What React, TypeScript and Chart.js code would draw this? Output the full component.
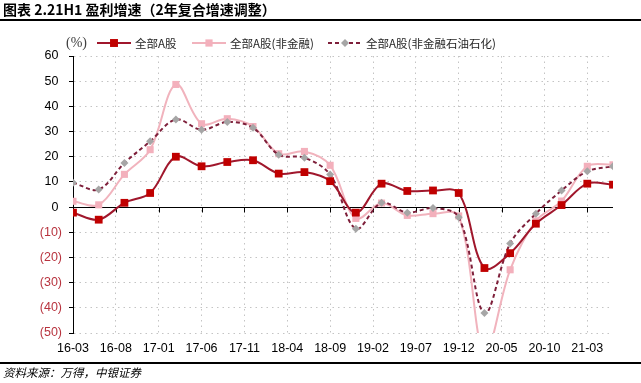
import React, { useEffect, useRef } from 'react';
import { Chart, registerables } from 'chart.js';
Chart.register(...registerables);

const titleText = '图表 2.21H1 盈利增速（2年复合增速调整）';
const sourceText = '资料来源：万得，中银证券';
const unitText = '(%)';

const seriesNames = ['全部A股', '全部A股(非金融)', '全部A股(非金融石油石化)'];

const quarters = [
  '16-03', '16-06', '16-09', '16-12', '17-03', '17-06', '17-09', '17-12',
  '18-03', '18-06', '18-09', '18-12', '19-03', '19-06', '19-09', '19-12',
  '20-03', '20-06', '20-09', '20-12', '21-03', '21-06',
];

const allA = [-2.2, -5.0, 1.7, 5.6, 20.0, 16.2, 17.9, 18.6, 13.3, 13.9, 10.3, -2.2, 9.3, 6.4, 6.6, 5.6, -24.2, -18.3, -6.6, 0.8, 9.3, 8.9];
const exFin = [2.3, 0.9, 13.0, 22.8, 48.7, 33.1, 35.1, 32.0, 21.2, 22.1, 16.6, -4.5, 1.6, -3.3, -2.6, -3.5, -58.0, -24.9, -5.5, 2.4, 16.2, 16.8];
const exFinPetro = [9.7, 7.0, 17.5, 26.1, 34.8, 30.7, 33.8, 31.5, 20.8, 19.6, 12.9, -8.6, 1.7, -2.2, -0.4, -4.0, -42.1, -14.5, -2.6, 6.6, 14.2, 16.2];

const tickLabels = ['16-03', '16-08', '17-01', '17-06', '17-11', '18-04', '18-09', '19-02', '19-07', '19-12', '20-05', '20-10', '21-03'];

const yMin = -50;
const yMax = 60;
const yStep = 10;

const monthIndex = (s: string) => {
  const [yy, mm] = s.split('-').map(Number);
  return (yy - 16) * 12 + (mm - 3);
};
const toPoints = (vals: number[]) => quarters.map((q, i) => ({ x: monthIndex(q), y: vals[i] }));

const styles = [
  { line: '#A0172C', fill: '#C00000', dash: [] as number[], shape: 'rect', r: 5.5, order: 0 },
  { line: '#F1B3BD', fill: '#F3B0BC', dash: [] as number[], shape: 'rect', r: 5, order: 2 },
  { line: '#7E1F3A', fill: '#A6A6A6', dash: [4, 3], shape: 'rectRot', r: 4, order: 1 },
];

const GRID = '#C4C4C4';
const NEG = '#B8343F';

const zeroLinePlugin = {
  id: 'zeroLine',
  beforeDatasetsDraw(chart: any) {
    const { ctx, chartArea, scales } = chart;
    const x = scales.x;
    const y = scales.y;
    const y0 = Math.round(y.getPixelForValue(0)) + 0.5;
    ctx.save();
    ctx.strokeStyle = '#000';
    ctx.lineWidth = 1;
    ctx.setLineDash([]);
    ctx.beginPath();
    ctx.moveTo(chartArea.left, y0);
    ctx.lineTo(chartArea.right, y0);
    x.ticks.forEach((t: any) => {
      const px = Math.round(x.getPixelForValue(t.value)) + 0.5;
      ctx.moveTo(px, y0);
      ctx.lineTo(px, y0 + 5);
    });
    ctx.stroke();
    ctx.restore();
  },
};

function LegendMark({ idx }: { idx: number }) {
  const s = styles[idx];
  return (
    <svg width={34} height={12} style={{ display: 'block' }}>
      <line x1={0} y1={6} x2={34} y2={6} stroke={s.line} strokeWidth={2} strokeDasharray={s.dash.length ? s.dash.join(',') : undefined} />
      {s.shape === 'rect' ? (
        <rect x={17 - s.r * 0.72} y={6 - s.r * 0.72} width={s.r * 1.44} height={s.r * 1.44} fill={s.fill} />
      ) : (
        <polygon points={`17,${6 - s.r} ${17 + s.r},6 17,${6 + s.r} ${17 - s.r},6`} fill={s.fill} />
      )}
    </svg>
  );
}

export default function App() {
  const ref = useRef<HTMLCanvasElement | null>(null);

  useEffect(() => {
    if (!ref.current) return;
    const seriesValues = [allA, exFin, exFinPetro];
    const chart = new Chart(ref.current, {
      type: 'line',
      data: {
        datasets: seriesValues.map((vals, i) => ({
          label: seriesNames[i],
          data: toPoints(vals),
          borderColor: styles[i].line,
          backgroundColor: styles[i].fill,
          pointBackgroundColor: styles[i].fill,
          pointBorderColor: styles[i].fill,
          pointBorderWidth: 0,
          pointStyle: styles[i].shape as any,
          pointRadius: styles[i].r,
          borderWidth: 2,
          borderDash: styles[i].dash,
          tension: 0.35,
          order: styles[i].order,
          fill: false,
        })),
      },
      options: {
        responsive: false,
        animation: false,
        events: [],
        layout: { padding: { top: 56, right: 28, left: 0, bottom: 0 } },
        plugins: { legend: { display: false }, tooltip: { enabled: false }, title: { display: false } },
        scales: {
          x: {
            type: 'linear',
            min: monthIndex(quarters[0]),
            max: monthIndex(quarters[quarters.length - 1]),
            afterBuildTicks: (s: any) => {
              s.ticks = tickLabels.map((l) => ({ value: monthIndex(l) }));
            },
            afterFit: (s: any) => {
              s.height = 50;
            },
            ticks: {
              autoSkip: false,
              maxRotation: 0,
              padding: 8,
              color: '#000',
              font: { family: "'Liberation Sans', Arial, sans-serif", size: 12.5 },
              callback: (v: any) => tickLabels.find((l) => monthIndex(l) === v) ?? '',
            },
            grid: { color: GRID, drawTicks: false, lineWidth: 1 },
            border: { display: false, dash: [1.5, 4] },
          },
          y: {
            type: 'linear',
            min: yMin,
            max: yMax,
            afterFit: (s: any) => {
              s.width = 73;
            },
            ticks: {
              stepSize: yStep,
              padding: 7,
              color: (c: any) => (c.tick && c.tick.value < 0 ? NEG : '#000'),
              font: { family: "'Liberation Sans', Arial, sans-serif", size: 12.5 },
              callback: (v: any) => (v < 0 ? `(${-v})` : `${v} `),
            },
            grid: {
              color: (c: any) => (c.tick && c.tick.value === 0 ? 'rgba(0,0,0,0)' : GRID),
              tickColor: '#000',
              tickLength: 4,
              lineWidth: 1,
            },
            border: { display: true, color: '#000', width: 1, dash: [1.5, 4] },
          },
        },
      },
      plugins: [zeroLinePlugin],
    } as any);
    return () => chart.destroy();
  }, []);

  const legendLefts = [97, 192, 328];

  return (
    <div style={{ position: 'absolute', left: 0, top: 0, width: 641, height: 383, background: '#fff', overflow: 'hidden' }}>
      <canvas ref={ref} width={641} height={383} style={{ position: 'absolute', left: 0, top: 0 }} />
      <div style={{ position: 'absolute', left: 3, top: 1, fontFamily: "'Noto Sans CJK SC', sans-serif", fontWeight: 700, fontSize: 14, lineHeight: '17px', color: '#000', whiteSpace: 'nowrap' }}>
        {titleText}
      </div>
      <div style={{ position: 'absolute', left: 0, top: 19, width: 641, height: 2, background: '#000' }} />
      <div style={{ position: 'absolute', left: 66, top: 34, fontFamily: "'Liberation Serif', 'DejaVu Serif', serif", fontSize: 14, lineHeight: '18px', color: '#404040' }}>
        {unitText}
      </div>
      {seriesNames.map((name, i) => (
        <div key={name} style={{ position: 'absolute', left: legendLefts[i], top: 35, height: 16, display: 'flex', alignItems: 'center', gap: 4, whiteSpace: 'nowrap' }}>
          <LegendMark idx={i} />
          <span style={{ fontFamily: "'Noto Sans CJK SC', sans-serif", fontSize: 11.5, color: '#262626', lineHeight: '16px' }}>{name}</span>
        </div>
      ))}
      <div style={{ position: 'absolute', left: 0, top: 362, width: 641, height: 1.5, background: '#000' }} />
      <div style={{ position: 'absolute', left: 3, top: 365, fontFamily: "'Noto Sans CJK SC', sans-serif", fontStyle: 'italic', fontSize: 11.5, lineHeight: '15px', color: '#000', whiteSpace: 'nowrap' }}>
        {sourceText}
      </div>
    </div>
  );
}
